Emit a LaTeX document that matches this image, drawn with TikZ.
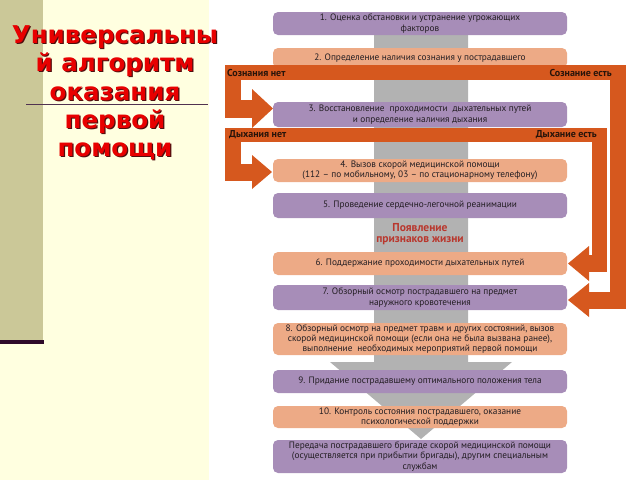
\documentclass[tikz,border=0pt]{standalone}
\usepackage{fontspec}
\setmainfont{PT Sans}
\newfontfamily\titlefont{DejaVu Sans}
\definecolor{cream}{RGB}{255,255,224}
\definecolor{olive}{RGB}{203,200,152}
\definecolor{darkline}{RGB}{46,10,42}
\definecolor{uline}{RGB}{80,50,80}
\definecolor{titlered}{RGB}{232,0,0}
\definecolor{shadowc}{RGB}{80,15,15}
\definecolor{purp}{RGB}{167,141,184}
\definecolor{salm}{RGB}{237,170,134}
\definecolor{orng}{RGB}{214,88,30}
\definecolor{colgray}{RGB}{178,178,178}
\definecolor{txtgray}{RGB}{35,30,35}
\definecolor{barlbl}{RGB}{40,20,10}
\definecolor{signred}{RGB}{185,55,45}
\tikzset{
  box/.style={rounded corners=5, minimum width=294, inner sep=0, align=center,
    font=\fontsize{9.3}{10.4}\selectfont, text=txtgray},
  pbox/.style={box, fill=purp},
  sbox/.style={box, fill=salm},
  barlabel/.style={inner sep=0, font=\fontsize{10}{11}\selectfont\bfseries, text=barlbl},
  ttl/.style={anchor=base, inner sep=0, font=\titlefont\bfseries\fontsize{24.5}{28}\selectfont, text=titlered},
  ttlsh/.style={ttl, text=shadowc},
}
\begin{document}
\begin{tikzpicture}[x=1pt,y=-1pt]
\useasboundingbox (0,0) rectangle (640,480);
% left panel
\fill[cream] (0,0) rectangle (209,480);
\fill[olive] (0,0) rectangle (43,340);
\fill[darkline] (0,340) rectangle (44,343.5);
\draw[uline, line width=1] (26,104) -- (208,104);
% title
\foreach \t/\yy/\n in {Универсальны/43/1, й алгоритм/71.5/2, оказания/100/3, первой/128.5/4, помощи/156.5/5}{
  \node[ttlsh] (ts\n) at (116.2,\yy+1.2) {\t};
  \node[ttl] (t\n) at (115,\yy) {\t};
}
% gray central arrow
\fill[colgray] (374,30) -- (468,30) -- (468,362) -- (512,362) -- (421,439) -- (330,362) -- (374,362) -- cycle;
% boxes
\node[pbox, minimum height=23] (b1) at (420,23.5) {1. Оценка обстановки и устранение угрожающих\\факторов};
\node[sbox, minimum height=20] (b2) at (420,58) {2. Определение наличия сознания у пострадавшего};
\node[pbox, minimum height=25] (b3) at (420,114.5) {3. Восстановление \ проходимости \ дыхательных путей\\и определение наличия дыхания};
\node[sbox, minimum height=23] (b4) at (420,170.5) {4. Вызов скорой медицинской помощи\\(112 – по мобильному, 03 – по стационарному телефону)};
\node[pbox, minimum height=25] (b5) at (420,205.5) {5. Проведение сердечно-легочной реанимации};
\node[inner sep=0, align=center, text=signred, font=\fontsize{11.5}{11}\selectfont\bfseries] (sig) at (420,234.5) {Появление\\признаков жизни};
\node[sbox, minimum height=23] (b6) at (420,263.5) {6. Поддержание проходимости дыхательных путей};
\node[pbox, minimum height=25] (b7) at (420,297.5) {7. Обзорный осмотр пострадавшего на предмет\\наружного кровотечения};
\node[sbox, minimum height=32] (b8) at (420,339) {8. Обзорный осмотр на предмет травм и других состояний, вызов\\скорой медицинской помощи (если она не была вызвана ранее),\\выполнение \ необходимых мероприятий первой помощи};
\node[pbox, minimum height=23] (b9) at (420,381.5) {9. Придание пострадавшему оптимального положения тела};
\node[sbox, minimum height=22] (b10) at (420,417) {10. Контроль состояния пострадавшего, оказание\\психологической поддержки};
\node[pbox, minimum height=33] (b11) at (420,456.5) {Передача пострадавшего бригаде скорой медицинской помощи\\(осуществляется при прибытии бригады), другим специальным\\службам};
% orange branches: consciousness
\fill[orng] (225,65) rectangle (626,80);
\fill[orng] (225,65) rectangle (241,118);
\fill[orng] (225,100) rectangle (253,118);
\coordinate (a3) at (273,108.5);
\fill[orng] (252,89) -- (a3) -- (252,128) -- cycle;
\fill[orng] (610,65) rectangle (626,309);
\fill[orng] (588,292) rectangle (626,309);
\coordinate (a7) at (568,300);
\fill[orng] (589,283) -- (a7) -- (589,317) -- cycle;
% orange branches: breathing
\fill[orng] (225,128) rectangle (607,142);
\fill[orng] (225,128) rectangle (241,181);
\fill[orng] (225,164) rectangle (253,181);
\coordinate (a4) at (272,172);
\fill[orng] (252,155) -- (a4) -- (252,189) -- cycle;
\fill[orng] (592,128) rectangle (607,272);
\fill[orng] (588,255) rectangle (607,272);
\coordinate (a6) at (568,263.5);
\fill[orng] (589,246) -- (a6) -- (589,281) -- cycle;
% bar labels
\node[barlabel, anchor=west] (l1) at (227,72.5) {Сознания нет};
\node[barlabel, anchor=east] (r1) at (612,72.5) {Сознание есть};
\node[barlabel, anchor=west] (l2) at (229,135) {Дыхания нет};
\node[barlabel, anchor=east] (r2) at (597,135) {Дыхание есть};
\end{tikzpicture}
\end{document}
